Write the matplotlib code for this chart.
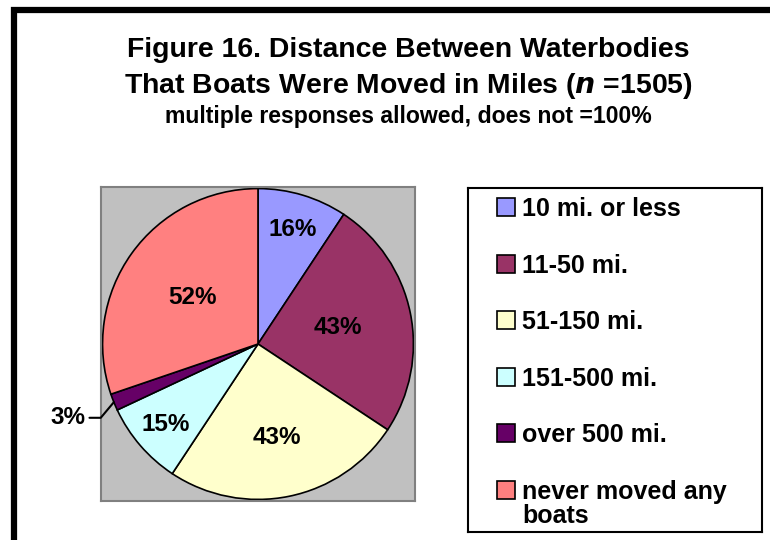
import numpy as np
import matplotlib
matplotlib.use('Agg')
import matplotlib.pyplot as plt
from matplotlib.patches import Rectangle

plt.rcParams['font.family'] = ['Liberation Sans', 'DejaVu Sans']
plt.rcParams['font.weight'] = 'bold'

# data
categories = ['10 mi. or less', '11-50 mi.', '51-150 mi.', '151-500 mi.',
              'over 500 mi.', 'never moved any\nboats']
percents = [16, 43, 43, 15, 3, 52]
colors = ['#9999FF', '#993366', '#FFFFCC', '#CCFFFF', '#660066', '#FF8080']
# radial position of each inside label (None = outside with leader)
label_r = [0.76, 0.52, 0.61, 0.78, None, 0.51]

W, H = 770, 540
fig = plt.figure(figsize=(W / 100, H / 100), dpi=100)

# thick black frame, running off the right and bottom edge
frame = Rectangle((14 / W, -0.1), 1.2, (H - 10) / H + 0.1,
                  transform=fig.transFigure, fill=False,
                  edgecolor='black', linewidth=4.5, clip_on=False)
fig.patches.append(frame)

fig.text(408 / W, 1 - 57 / H, 'Figure 16. Distance Between Waterbodies',
         ha='center', va='baseline', fontsize=20.4, fontweight='bold')
fig.text(408 / W, 1 - 93 / H,
         'That Boats Were Moved in Miles ($\\mathbfit{n}$ =1505)',
         ha='center', va='baseline', fontsize=20.4, fontweight='bold')
fig.text(408 / W, 1 - 123 / H, 'multiple responses allowed, does not =100%',
         ha='center', va='baseline', fontsize=16.6, fontweight='bold')

# pie on a gray square
ax = fig.add_axes([101 / W, 39 / H, 314 / W, 314 / H])
wedges, _ = ax.pie(percents, colors=colors, startangle=90, counterclock=False,
                   radius=0.99, frame=True,
                   wedgeprops=dict(edgecolor='black', linewidth=1.2))
ax.set_facecolor('#C0C0C0')
for s in ax.spines.values():
    s.set_edgecolor('#808080')
    s.set_linewidth(1.5)
ax.set_xticks([])
ax.set_yticks([])
ax.set_xlim(-1, 1)
ax.set_ylim(-1, 1)
ax.set_aspect('equal')

for w, p, r in zip(wedges, percents, label_r):
    mid = np.deg2rad((w.theta1 + w.theta2) / 2)
    if r is not None:
        ax.text(r * np.cos(mid), r * np.sin(mid), f'{p}%', ha='center',
                va='center', fontsize=17.5, fontweight='bold')
    else:
        ax.annotate(f'{p}%', xy=(0.99 * np.cos(mid), 0.99 * np.sin(mid)),
                    xytext=(-1.1, -0.47), ha='right', va='center',
                    fontsize=17.5, fontweight='bold', annotation_clip=False,
                    arrowprops=dict(arrowstyle='-', color='black', lw=1.5,
                                    shrinkA=1, shrinkB=0,
                                    connectionstyle='angle,angleA=0,angleB=50,rad=0'))

# legend box drawn in its own axes (pixel units inside)
lax = fig.add_axes([468 / W, 8 / H, 294 / W, 344 / H])
lax.set_xlim(0, 294)
lax.set_ylim(344, 0)
lax.set_xticks([])
lax.set_yticks([])
for s in lax.spines.values():
    s.set_edgecolor('black')
    s.set_linewidth(1.5)

for i, (lab, col) in enumerate(zip(categories, colors)):
    yc = 19 + 56.6 * i
    lax.add_patch(Rectangle((29, yc - 9), 18, 18, facecolor=col,
                            edgecolor='black', linewidth=1.2))
    lax.text(54, yc - 10, lab, ha='left', va='top', fontsize=18,
             fontweight='bold', linespacing=1.0)

fig.savefig('out.png', dpi=100)
